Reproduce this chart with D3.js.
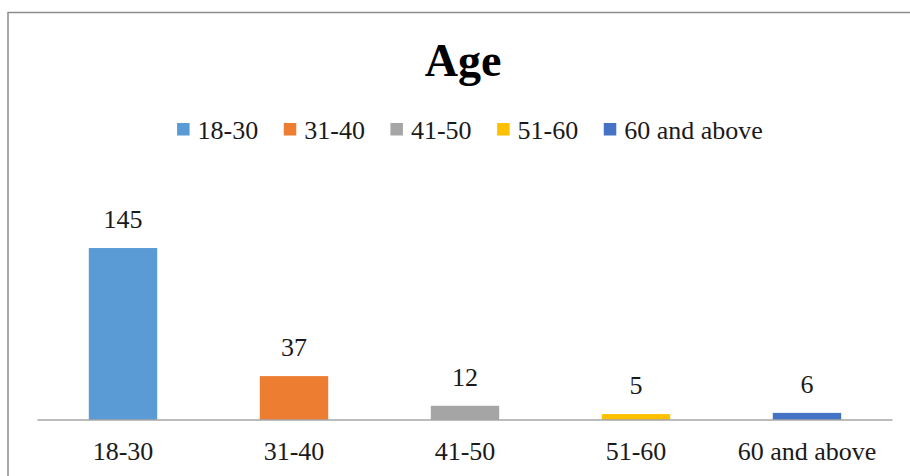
<!DOCTYPE html>
<html>
<head>
<meta charset="utf-8">
<script src="https://cdn.jsdelivr.net/npm/d3@7"></script>
<style>
  html, body { margin: 0; padding: 0; background: #fff; }
  svg { display: block; }
</style>
</head>
<body>
<svg id="chart" width="910" height="476"></svg>
<script>
// Age distribution of respondents
const categories = ["18-30", "31-40", "41-50", "51-60", "60 and above"];
const values = [145, 37, 12, 5, 6];
const colors = ["#5B9BD5", "#ED7D31", "#A5A5A5", "#FFC000", "#4472C4"];
const yDomain = [0, 160];

const FONT = "'Liberation Serif', 'Times New Roman', Times, serif";
const svg = d3.select("#chart");
const W = 910, H = 476;

// chart frame (runs off the right and bottom edges)
svg.append("rect")
  .attr("x", 8).attr("y", 12.5)
  .attr("width", W + 20).attr("height", H + 20)
  .attr("fill", "#fff")
  .attr("stroke", "#8c8c8c")
  .attr("stroke-width", 1.5);

const plot = { left: 37.5, right: 892.5, bottom: 420 };

const x = d3.scaleBand()
  .domain(categories)
  .range([plot.left, plot.right])
  .paddingInner(0.6)
  .paddingOuter(0.3);

const y = d3.scaleLinear()
  .domain(yDomain)
  .range([plot.bottom, plot.bottom - 160 * 1.186]);

// title
svg.append("text")
  .attr("x", 463).attr("y", 75.5)
  .attr("text-anchor", "middle")
  .style("font-family", FONT)
  .attr("font-size", 46).attr("font-weight", "bold")
  .attr("fill", "#000")
  .text("Age");

// legend
const sq = 12.5, gapSq = 8, gapItem = 25.5;
const legend = svg.append("g");
const items = legend.selectAll("g.item").data(categories).join("g").attr("class", "item");
items.append("rect")
  .attr("width", sq).attr("height", sq)
  .attr("y", 123)
  .attr("fill", (d, i) => colors[i]);
items.append("text")
  .attr("y", 139)
  .style("font-family", FONT)
  .attr("font-size", 26)
  .attr("fill", "#1a1a1a")
  .text(d => d);
const widths = [];
items.each(function() {
  widths.push(d3.select(this).select("text").node().getComputedTextLength());
});
const total = d3.sum(widths.map(w => sq + gapSq + w)) + gapItem * (widths.length - 1);
let cx = 470 - total / 2;
items.each(function(d, i) {
  const g = d3.select(this);
  g.select("rect").attr("x", cx);
  g.select("text").attr("x", cx + sq + gapSq);
  cx += sq + gapSq + widths[i] + gapItem;
});

// bars
svg.append("g").selectAll("rect")
  .data(values)
  .join("rect")
  .attr("x", (d, i) => x(categories[i]))
  .attr("width", x.bandwidth())
  .attr("y", d => y(d))
  .attr("height", d => y(0) - y(d))
  .attr("fill", (d, i) => colors[i]);

// value labels
svg.append("g").selectAll("text")
  .data(values)
  .join("text")
  .attr("x", (d, i) => x(categories[i]) + x.bandwidth() / 2)
  .attr("y", d => y(d) - 20)
  .attr("text-anchor", "middle")
  .style("font-family", FONT)
  .attr("font-size", 26)
  .attr("fill", "#1a1a1a")
  .text(d => d);

// category axis
const axis = svg.append("g")
  .attr("transform", `translate(0,${plot.bottom})`)
  .call(d3.axisBottom(x).tickSize(0).tickPadding(22));
axis.select(".domain").attr("stroke", "#a6a6a6").attr("stroke-width", 1.3)
  .attr("d", `M${plot.left},0H${plot.right}`);
axis.selectAll(".tick text")
  .style("font-family", FONT)
  .attr("font-size", 26)
  .attr("fill", "#1a1a1a")
  .attr("dy", "0.71em");
</script>
</body>
</html>
